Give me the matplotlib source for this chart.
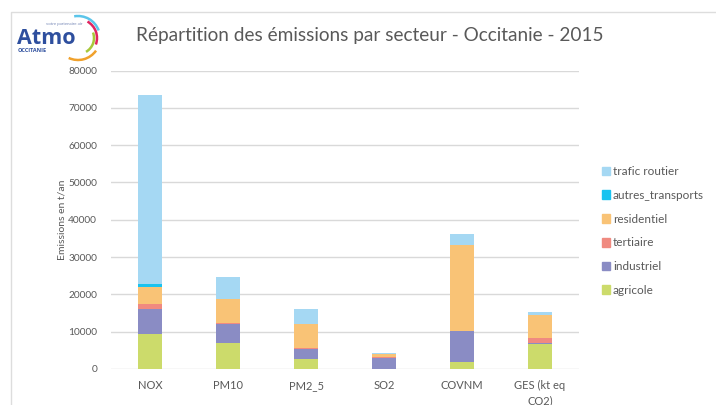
import numpy as np
import matplotlib
matplotlib.use("Agg")
import matplotlib.pyplot as plt
from matplotlib.patches import Arc, Patch

# Données (t/an)
polluants = ["NOX", "PM10", "PM2_5", "SO2", "COVNM", "GES (kt eq\nCO2)"]
agricole = [9400, 7000, 2700, 100, 1800, 6600]
industriel = [6600, 5000, 2750, 2950, 8400, 450]
tertiaire = [1500, 200, 150, 50, 100, 1250]
residentiel = [4500, 6500, 6450, 900, 22900, 6150]
autres_transports = [800, 100, 50, 50, 50, 100]
trafic_routier = [50600, 5800, 3900, 250, 3050, 700]

secteurs = ["agricole", "industriel", "tertiaire", "residentiel",
            "autres_transports", "trafic routier"]
series = [agricole, industriel, tertiaire, residentiel,
          autres_transports, trafic_routier]
couleurs = ["#CCDB6B", "#8A8CC4", "#F08A80", "#F9C376", "#19C3F0", "#A5D8F3"]

gris = "#595959"
plt.rcParams['font.family'] = ['Lato', 'DejaVu Sans']

fig = plt.figure(figsize=(7.16, 4.05), dpi=100)
ax = fig.add_axes([111 / 716, 1 - 369 / 405, 468 / 716, 298.5 / 405])

x = np.arange(len(polluants))
bas = np.zeros(len(polluants))
for nom, vals, c in zip(secteurs, series, couleurs):
    ax.bar(x, vals, width=0.32, bottom=bas, color=c, label=nom, zorder=3)
    bas += np.array(vals)

ax.set_xlim(-0.5, len(polluants) - 0.5)
ax.set_ylim(0, 80000)
ax.set_yticks(np.arange(0, 80001, 10000))
ax.grid(axis="y", color="#D9D9D9", linewidth=1, zorder=0)
ax.set_xticks(x)
ax.set_xticklabels(polluants, fontsize=8, color=gris, linespacing=1.45)
ax.tick_params(axis="y", labelsize=7.3, colors=gris, length=0, pad=10)
ax.tick_params(axis="x", length=0, pad=8, colors=gris)
for s in ["top", "right", "left", "bottom"]:
    ax.spines[s].set_visible(False)
ax.set_ylabel("Emissions en t/an", fontsize=7.5, color=gris, labelpad=1)

# légende (ordre inversé comme sur l'original)
poignees = [Patch(color=c) for c in couleurs][::-1]
fig.legend(poignees, secteurs[::-1], loc="center left",
           bbox_to_anchor=(591 / 716, 1 - 231 / 405), frameon=False,
           fontsize=8.5, labelcolor=gris, handlelength=0.75, handleheight=0.75,
           handletextpad=0.2, labelspacing=1.08)

fig.text(370 / 716, 1 - 36 / 405,
         "Répartition des émissions par secteur - Occitanie - 2015",
         fontsize=13.7, color=gris, ha="center", va="center")

# cadre et logo, en coordonnées pixels
deco = fig.add_axes([0, 0, 1, 1], zorder=-1)
deco.set_xlim(0, 716)
deco.set_ylim(405, 0)
deco.axis("off")
deco.plot([11, 11, 716], [405, 12, 12], color="#DDDDDD", linewidth=1)

fig.text(17 / 716, 1 - 44 / 405, "Atmo", fontsize=15.5, fontweight="bold",
         color="#2E4F9E", family=["Open Sans", "DejaVu Sans"])
fig.text(18 / 716, 1 - 52 / 405, "OCCITANIE", fontsize=4, fontweight="bold",
         color="#2E4F9E", family=["Open Sans", "DejaVu Sans"])
fig.text(46 / 716, 1 - 25 / 405, "votre partenaire air", fontsize=3.2,
         color="#7A8BB8")
arcs = [(22, 20, 100, "#5BC5EA"), (19, -20, 60, "#E0245E"),
        (16, -60, 20, "#A8C83A"), (22, -115, -35, "#F0A12C")]
for r, t1, t2, c in arcs:
    deco.add_patch(Arc((78, 38), 2 * r, 2 * r, theta1=-t2, theta2=-t1,
                       color=c, linewidth=1.8))

fig.savefig("out.png", dpi=100)
